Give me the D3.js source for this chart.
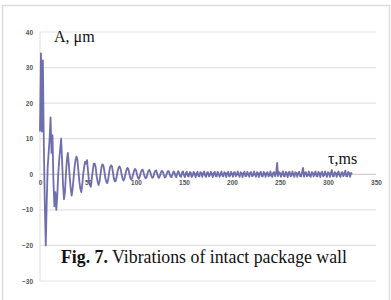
<!DOCTYPE html>
<html><head><meta charset="utf-8">
<script src="https://cdn.jsdelivr.net/npm/d3@7"></script>
<style>html,body{margin:0;padding:0;background:#fff;}svg{display:block;}</style>
</head><body>
<script>
// ---- data ----
const sampleStepMs = 1; // one sample per millisecond, starting at 0 ms
const amplitude = [
 12, 34, 12, 32, 8, -8, -20, -8, 2, 6,
 10, 16, 6, 11, -2, -9, -5, -10, -6, 0,
 4, 7, 10, 4, -3, -7, -5, 0, 4, 6,
 3, -1, -4, -6, -4, -1, 2, 4, 5, 4,
 1, -2, -4, -5, -3, 0, 2, 3.5, 3, 4,
 1, -2, -3, -3.5, -1, 1, 3, 3, 2, -0.5,
 -2, -3, -2, 0, 2, 2.8, 2.5, 1, -1, -2,
 -2.5, -1.5, 0.5, 2, 2.5, 2.2, 0.5, -1.2, -2, -1.8,
 -0.5, 1, 2, 2.2, 1.5, 0, -1.2, -1.8, -1.2, 0,
 1.2, 1.8, 1.5, 0.3, -1, -1.5, -1, 0, 1, 1.5,
 1.2, 0, -1, -1.3, -0.6, 0.5, 1.2, 1.3, 0.4,
 -0.6, -1.1, -0.9, 0.2, 1.0, 1.2, 0.5, -0.5, -1.0, -0.8,
 0.3, 0.9, 1.1, 0.2, -0.7, -1.0, -0.3, 0.6, 1.0, 0.7,
 -0.2, -0.9, -0.7, 0.1, 0.8, 0.9, 0.1, -0.7, -0.8, 0.0,
 0.8, 0.6, -0.4, -0.8, 0.2, 0.9, 0.3, -0.6, -0.7, 0.5,
 0.8, -0.3, -0.8, 0.4, 0.7, -0.5, -0.6, 0.6, 0.5, -0.7,
 -0.4, 0.7, 0.3, -0.8, 0.1, 0.7, -0.5, -0.6, 0.6, 0.4,
 -0.7, 0.3, 0.8, -0.4, -0.7, 0.5, 0.6, -0.6, -0.3, 0.7,
 0.1, -0.8, 0.4, 0.7, -0.5, -0.6, 0.7, 0.3, -0.7, 0.0,
 0.8, -0.4, -0.6, 0.6, 0.4, -0.8, 0.3, 0.7, -0.6, -0.4,
 0.7, 0.1, -0.7, 0.5, 0.6, -0.6, -0.1, 0.8, -0.3, -0.7,
 0.6, 0.4, -0.8, 0.3, 0.7, -0.5, -0.5, 0.7, 0.1, -0.7,
 0.5, 0.6, -0.6, -0.3, 0.8, -0.1, -0.7, 0.6, 0.4, -0.8,
 0.3, 0.7, -0.5, -0.6, 0.7, 0.3, -0.7, 0.4, 0.6, -0.6,
 -0.3, 0.8, -0.4, -0.7, 0.5, 0.6, -0.6, 0.3, 3.2, -0.5,
 0.6, 0.4, -0.7, 0.1, 0.8, -0.5, -0.6, 0.7, 0.3, -0.8,
 0.5, 0.7, -0.6, -0.3, 0.8, -0.1, -0.7, 0.6, 0.4, -0.7,
 0.4, 0.7, -0.5, -0.6, 0.6, 1.8, -0.7, 0.5, 0.6, -0.6,
 -0.3, 0.8, -0.4, -0.7, 0.6, 0.5, -0.6, 0.1, 0.8, -0.5,
 -0.6, 0.7, 0.3, -0.8, 0.5, 0.7, -0.6, -0.3, 0.8, -0.1,
 -0.7, 0.6, 0.4, -0.7, 0.4, 1.2, -0.5, -0.6, 0.6, 0.4,
 -0.7, 0.3, 0.8, -0.4, -0.7, 0.5, 0.6, -0.6, 0.1, 1.0,
 -0.5, -0.6, 0.7, 0.3, -0.7, 0.4, 0.0
];
const xTicks = [0, 50, 100, 150, 200, 250, 300, 350];
const yTicks = [-30, -20, -10, 0, 10, 20, 30, 40];
const yAxisTitle = "A, μm";
const xAxisTitle = "τ,ms";
const captionBold = "Fig. 7.";
const captionRest = " Vibrations of intact package wall";

// ---- drawing ----
const W = 391, H = 300;
const svg = d3.select("body").append("svg").attr("width", W).attr("height", H);

svg.append("rect").attr("x", 2.5).attr("y", 5.5).attr("width", 387).attr("height", 300)
  .attr("fill", "#fff").attr("stroke", "#dcdcdc").attr("stroke-width", 1.5);

const x = d3.scaleLinear().domain([0, 350]).range([40, 376]);
const y = d3.scaleLinear().domain([-30, 40]).range([281, 32]);

// gridlines
svg.append("g").selectAll("line").data(yTicks).join("line")
  .attr("x1", x(0)).attr("x2", x(350))
  .attr("y1", d => y(d)).attr("y2", d => y(d))
  .attr("stroke", d => d === 0 ? "#d0d0d0" : "#e3e3e3").attr("stroke-width", 1.2);

// y axis line
svg.append("line").attr("x1", x(0)).attr("x2", x(0)).attr("y1", y(40)).attr("y2", y(-30))
  .attr("stroke", "#dedede").attr("stroke-width", 1);

// y tick labels
const yAxis = d3.axisLeft(y).tickValues(yTicks).tickSize(0).tickPadding(7);
const gy = svg.append("g").attr("transform", `translate(${x(0)},0)`).call(yAxis);
gy.select(".domain").remove();
gy.selectAll("text").attr("font-family", "Liberation Sans, Arial, sans-serif")
  .attr("font-size", 6.5).attr("font-weight", "bold").attr("fill", "#555");

// x tick labels (along zero line)
const xAxis = d3.axisBottom(x).tickValues(xTicks).tickSize(0).tickPadding(6);
const gx = svg.append("g").attr("transform", `translate(0,${y(0)})`).call(xAxis);
gx.select(".domain").remove();
gx.selectAll("text").attr("font-family", "Liberation Sans, Arial, sans-serif")
  .attr("font-size", 6.5).attr("font-weight", "bold").attr("fill", "#555");

// series
const line = d3.line().x((d, i) => x(i * sampleStepMs)).y(d => y(d));
svg.append("path").datum(amplitude).attr("d", line)
  .attr("fill", "none").attr("stroke", "#5f5ea6").attr("stroke-width", 1.8)
  .attr("stroke-linejoin", "round").attr("stroke-opacity", 0.9);

// titles
svg.append("text").attr("x", 54).attr("y", 42).text(yAxisTitle)
  .attr("font-family", "Liberation Serif, Times New Roman, serif").attr("font-size", 16).attr("fill", "#111");
svg.append("text").attr("x", 328).attr("y", 164).text(xAxisTitle)
  .attr("font-family", "Liberation Serif, Times New Roman, serif").attr("font-size", 16).attr("fill", "#111");

const cap = svg.append("text").attr("x", 61).attr("y", 263)
  .attr("font-family", "Liberation Serif, Times New Roman, serif").attr("font-size", 17.8).attr("fill", "#111");
cap.append("tspan").attr("font-weight", "bold").text(captionBold);
cap.append("tspan").text(captionRest);
</script>
</body></html>
